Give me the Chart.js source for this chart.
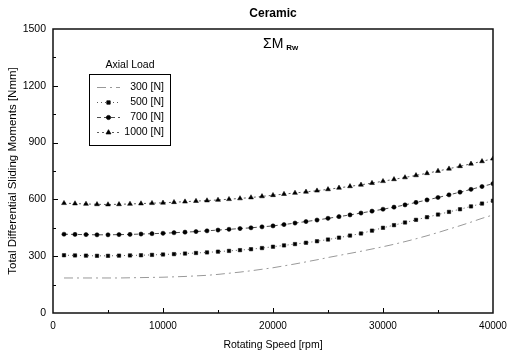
<!DOCTYPE html>
<html>
<head>
<meta charset="utf-8">
<script src="https://cdn.jsdelivr.net/npm/chart.js@4.4.1/dist/chart.umd.min.js"></script>
<style>
  html, body { margin: 0; padding: 0; background: #fff; }
  #wrap { width: 507px; height: 359px; }
</style>
</head>
<body>
<div id="wrap"><canvas id="momentChart"></canvas></div>
<script>
// rotating speed [rpm], one point every 1000 rpm
const speeds = [1000, 2000, 3000, 4000, 5000, 6000, 7000, 8000, 9000, 10000,
    11000, 12000, 13000, 14000, 15000, 16000, 17000, 18000, 19000, 20000,
    21000, 22000, 23000, 24000, 25000, 26000, 27000, 28000, 29000, 30000,
    31000, 32000, 33000, 34000, 35000, 36000, 37000, 38000, 39000, 40000];

// total differential sliding moments [Nmm] per axial load
const load300 = [185, 185, 185, 185, 185, 185, 186, 187, 188, 189,
    191, 193, 196, 199, 204, 210, 216, 223, 231, 239,
    249, 259, 270, 281, 293, 304, 315, 326, 338, 350,
    363, 377, 392, 408, 425, 443, 461, 480, 500, 518];
const load500 = [305, 304, 303, 302, 302, 303, 304, 305, 307, 309,
    311, 314, 317, 320, 324, 328, 332, 337, 343, 350,
    357, 364, 371, 379, 388, 398, 409, 420, 435, 450,
    464, 478, 492, 506, 520, 534, 548, 563, 578, 593];
const load700 = [416, 415, 414, 413, 413, 414, 415, 417, 419, 421,
    424, 427, 430, 434, 438, 442, 446, 450, 455, 460,
    467, 475, 483, 491, 500, 509, 518, 528, 538, 548,
    559, 571, 584, 597, 610, 624, 638, 653, 668, 683];
const load1000 = [580, 578, 576, 574, 573, 574, 576, 578, 580, 582,
    585, 588, 591, 594, 597, 601, 605, 610, 616, 622,
    628, 634, 640, 646, 653, 661, 669, 677, 686, 696,
    706, 716, 727, 738, 750, 762, 775, 788, 801, 815];

const loadLabels = ['300 [N]', '500 [N]', '700 [N]', '1000 [N]'];
const xTicks = [0, 10000, 20000, 30000, 40000];
const yTicks = [0, 300, 600, 900, 1200, 1500];

const FONT = 'Liberation Sans, Arial, Helvetica, sans-serif';

function pts(values) {
    return speeds.map((s, i) => ({ x: s, y: values[i] }));
}

// frame, inward ticks, legend box and the ΣM label
const decorations = {
    id: 'decorations',
    afterDraw(chart) {
        const ctx = chart.ctx;
        const a = chart.chartArea;
        const xs = chart.scales.x, ys = chart.scales.y;
        ctx.save();

        // inner ticks
        ctx.strokeStyle = '#000';
        ctx.lineWidth = 1;
        ctx.beginPath();
        for (let v = 5000; v < 40000; v += 5000) {
            const px = Math.round(xs.getPixelForValue(v)) + 0.5;
            const len = v % 10000 === 0 ? 5 : 3;
            ctx.moveTo(px, a.bottom);
            ctx.lineTo(px, a.bottom - len);
        }
        for (let v = 150; v < 1500; v += 150) {
            const py = Math.round(ys.getPixelForValue(v)) + 0.5;
            const len = v % 300 === 0 ? 5 : 3;
            ctx.moveTo(a.left, py);
            ctx.lineTo(a.left + len, py);
        }
        ctx.stroke();

        // plot frame
        ctx.lineWidth = 1.5;
        ctx.strokeStyle = '#111';
        ctx.strokeRect(a.left, a.top, a.right - a.left, a.bottom - a.top);

        // ΣM Rw
        ctx.fillStyle = '#000';
        ctx.textBaseline = 'alphabetic';
        ctx.textAlign = 'left';
        ctx.font = '14px ' + FONT;
        ctx.fillText('ΣM', 263, 48);
        const w = ctx.measureText('ΣM').width;
        ctx.font = 'bold 8px ' + FONT;
        ctx.fillText('Rw', 263 + w + 3, 50);

        // legend
        ctx.font = '10.5px ' + FONT;
        ctx.textAlign = 'center';
        ctx.fillText('Axial Load', 130, 68);
        ctx.lineWidth = 1;
        ctx.strokeStyle = '#000';
        ctx.strokeRect(89.5, 74.5, 81, 71);
        const rowY = [87, 102, 117, 132];
        chart.data.datasets.forEach((ds, i) => {
            const y = rowY[i] + 0.5;
            ctx.strokeStyle = ds.borderColor;
            ctx.lineWidth = ds.borderWidth;
            ctx.setLineDash(ds.borderDash);
            ctx.beginPath();
            ctx.moveTo(97, y);
            ctx.lineTo(120, y);
            ctx.stroke();
            ctx.setLineDash([]);
            if (ds.pointRadius > 0) {
                ctx.fillStyle = ds.pointBackgroundColor;
                ctx.strokeStyle = ds.pointBorderColor;
                Chart.helpers.drawPoint(ctx, {
                    pointStyle: ds.pointStyle,
                    radius: ds.pointRadius,
                    borderWidth: 0.5,
                    rotation: 0
                }, 108.5, y);
            }
            ctx.fillStyle = '#000';
            ctx.textAlign = 'right';
            ctx.textBaseline = 'middle';
            ctx.font = '10.5px ' + FONT;
            ctx.fillText(ds.label, 164, y);
        });
        ctx.restore();
    }
};

const ctxMoment = document.getElementById('momentChart').getContext('2d');
const momentChart = new Chart(ctxMoment, {
    type: 'line',
    data: {
        datasets: [{
            label: loadLabels[0],
            data: pts(load300),
            borderColor: '#999',
            borderWidth: 1,
            borderDash: [9, 4, 2, 4],
            pointRadius: 0,
            pointStyle: 'line'
        }, {
            label: loadLabels[1],
            data: pts(load500),
            borderColor: '#333',
            borderWidth: 0.8,
            borderDash: [1, 3],
            pointStyle: 'rect',
            pointRadius: 2.4,
            pointBackgroundColor: '#000',
            pointBorderColor: '#000',
            pointBorderWidth: 0.5
        }, {
            label: loadLabels[2],
            data: pts(load700),
            borderColor: '#222',
            borderWidth: 0.8,
            borderDash: [4, 3],
            pointStyle: 'circle',
            pointRadius: 2.1,
            pointBackgroundColor: '#000',
            pointBorderColor: '#000',
            pointBorderWidth: 0.5
        }, {
            label: loadLabels[3],
            data: pts(load1000),
            borderColor: '#333',
            borderWidth: 0.8,
            borderDash: [2, 3],
            pointStyle: 'triangle',
            pointRadius: 2.8,
            pointBackgroundColor: '#000',
            pointBorderColor: '#000',
            pointBorderWidth: 0.5
        }]
    },
    options: {
        responsive: true,
        maintainAspectRatio: false,
        animation: false,
        events: [],
        layout: { padding: { top: 29, right: 0, bottom: 8, left: 6 } },
        plugins: {
            legend: { display: false },
            tooltip: { enabled: false },
            title: { display: false }
        },
        scales: {
            x: {
                type: 'linear',
                min: 0,
                max: 40000,
                afterBuildTicks: s => { s.ticks = xTicks.map(v => ({ value: v })); },
                afterFit: s => { s.height = 38; s.paddingRight = 14; s.paddingLeft = 0; },
                grid: { display: false, drawTicks: false },
                border: { display: false },
                ticks: {
                    color: '#000',
                    padding: 7,
                    maxRotation: 0,
                    font: { family: FONT, size: 10 },
                    callback: v => String(v)
                },
                title: {
                    display: true,
                    text: 'Rotating Speed [rpm]',
                    color: '#000',
                    padding: 0,
                    font: { family: FONT, size: 10.5 }
                }
            },
            y: {
                min: 0,
                max: 1500,
                afterBuildTicks: s => { s.ticks = yTicks.map(v => ({ value: v })); },
                afterFit: s => { s.width = 47; },
                grid: { display: false, drawTicks: false },
                border: { display: false },
                ticks: {
                    color: '#000',
                    padding: 7,
                    font: { family: FONT, size: 10.5 },
                    callback: v => String(v)
                },
                title: {
                    display: true,
                    text: 'Total Differential Sliding Moments [Nmm]',
                    color: '#000',
                    padding: 0,
                    font: { family: FONT, size: 11.5 }
                }
            }
        }
    },
    plugins: [decorations, {
        id: 'chartTitle',
        afterDraw(chart) {
            const ctx = chart.ctx;
            const a = chart.chartArea;
            ctx.save();
            ctx.font = 'bold 12px ' + FONT;
            ctx.fillStyle = '#000';
            ctx.textAlign = 'center';
            ctx.textBaseline = 'middle';
            ctx.fillText('Ceramic', (a.left + a.right) / 2, 14);
            ctx.restore();
        }
    }]
});
</script>
</body>
</html>
